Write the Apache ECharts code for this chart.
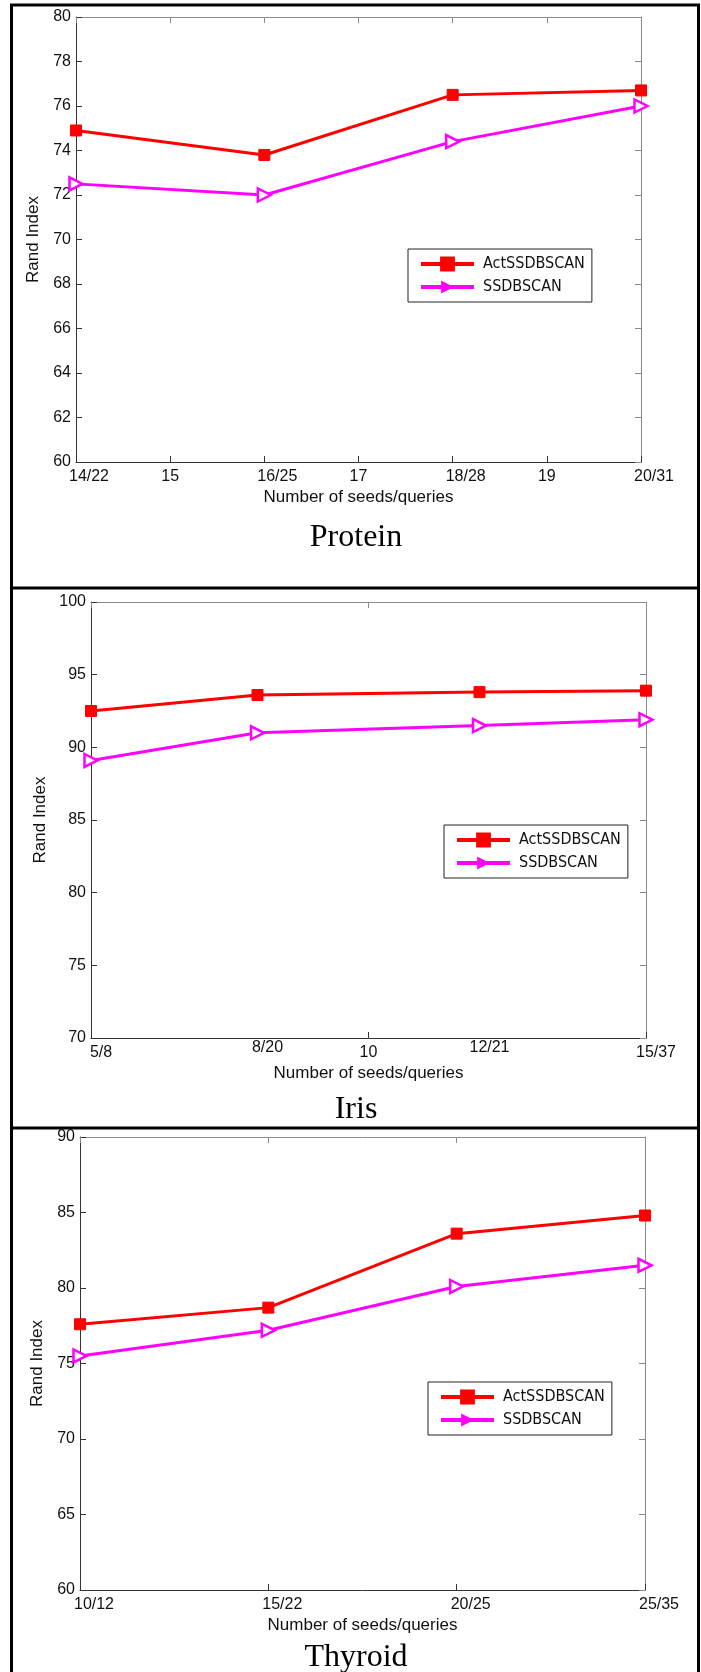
<!DOCTYPE html>
<html><head><meta charset="utf-8">
<script src="https://cdn.jsdelivr.net/npm/echarts@6/dist/echarts.min.js"></script>
<style>html,body{margin:0;padding:0;background:#fff}#c{width:701px;height:1672px}</style>
</head><body><div id="c"></div>
<script>
// ---- data ----
const seriesNames = ['ActSSDBSCAN', 'SSDBSCAN'];
const panelTitles = ['Protein', 'Iris', 'Thyroid'];
const xAxisTitle = 'Number of seeds/queries';
const yAxisTitle = 'Rand Index';

const proteinX = [14, 16, 18, 20];
const proteinAct = [74.9, 73.8, 76.5, 76.7];
const proteinSS = [72.5, 72.0, 74.4, 76.0];
const proteinTickValues = [14, 15, 16, 17, 18, 19, 20];
const proteinTickText = ['14/22', '15', '16/25', '17', '18/28', '19', '20/31'];

const irisX = [5, 8, 12, 15];
const irisAct = [92.5, 93.6, 93.8, 93.9];
const irisSS = [89.1, 91.0, 91.5, 91.9];
const irisTickValues = [5, 8, 10, 12, 15];
const irisTickText = ['5/8', '8/20', '10', '12/21', '15/37'];

const thyroidX = [10, 15, 20, 25];
const thyroidAct = [77.6, 78.7, 83.6, 84.8];
const thyroidSS = [75.5, 77.2, 80.1, 81.5];
const thyroidTickValues = [10, 15, 20, 25];
const thyroidTickText = ['10/12', '15/22', '20/25', '25/35'];

// ---- layout / styling ----
const panels = [
  { x: proteinX, act: proteinAct, ss: proteinSS, tv: proteinTickValues, tt: proteinTickText,
    xr: [14, 20, 1], yr: [60, 80, 2], marks: null, shift: 13,
    grid: { left: 76, top: 17, width: 565, height: 445 }, yGap: 30, legend: { left: 408, top: 249 }, titleY: 538 },
  { x: irisX, act: irisAct, ss: irisSS, tv: irisTickValues, tt: irisTickText,
    xr: [5, 15, 5], yr: [70, 100, 5], marks: [5, 10, 15], shift: 10,
    grid: { left: 91, top: 602, width: 555, height: 436 }, yGap: 38.5, legend: { left: 444, top: 825 }, titleY: 1110 },
  { x: thyroidX, act: thyroidAct, ss: thyroidSS, tv: thyroidTickValues, tt: thyroidTickText,
    xr: [10, 25, 5], yr: [60, 90, 5], marks: null, shift: 14,
    grid: { left: 80, top: 1137, width: 565, height: 453 }, yGap: 30.5, legend: { left: 428, top: 1382 }, titleY: 1658 }
];

const RED = '#ff0000', MAG = '#ff00ff';
const AX = '#333333', AX2 = '#8a8a8a';
const SANS = "'Liberation Sans', Arial, sans-serif";
const NARROW = "'DejaVu Sans Condensed', 'Liberation Sans Narrow', sans-serif";
const SERIF = "'Liberation Serif', 'Times New Roman', serif";

const grids = [], xAxes = [], yAxes = [], series = [], legends = [], graphics = [];

panels.forEach((p, i) => {
  grids.push(Object.assign({ containLabel: false }, p.grid));
  const base = { fontFamily: SANS, fontSize: 16, color: '#111' };
  const rich = {
    sd: Object.assign({ padding: [5, 0, 0, p.shift * 2] }, base),
    nd: Object.assign({ padding: [5, 0, 0, 0] }, base),
    sr: Object.assign({ padding: [0, 0, 0, p.shift * 2] }, base),
    nr: Object.assign({ padding: [0, 0, 0, 0] }, base)
  };
  const fmt = (val) => {
    const k = p.tv.indexOf(val);
    if (k < 0) return '';
    const t = p.tt[k];
    const s = t.indexOf('/') >= 0 ? 's' : 'n';
    const r = (p.marks && p.marks.indexOf(val) < 0) ? 'r' : 'd';
    return '{' + s + r + '|' + t + '}';
  };
  const tickCfg = { show: true, inside: true, length: 6, lineStyle: { color: AX, width: 1 } };
  if (p.marks) tickCfg.customValues = p.marks;
  xAxes.push({
    gridIndex: i, type: 'value', position: 'bottom', min: p.xr[0], max: p.xr[1], interval: p.xr[2],
    axisLine: { show: true, onZero: false, lineStyle: { color: AX, width: 1 } },
    axisTick: tickCfg,
    axisLabel: { show: true, customValues: p.tv, formatter: fmt, rich: rich, margin: 2, fontFamily: SANS, fontSize: 16, color: '#111' },
    splitLine: { show: false },
    name: xAxisTitle, nameLocation: 'middle', nameGap: 27,
    nameTextStyle: { fontFamily: SANS, fontSize: 17, color: '#111' }
  });
  const tickTop = { show: true, inside: true, length: 6, lineStyle: { color: AX2, width: 1 } };
  if (p.marks) tickTop.customValues = p.marks;
  xAxes.push({
    gridIndex: i, type: 'value', position: 'top', min: p.xr[0], max: p.xr[1], interval: p.xr[2],
    axisLine: { show: true, onZero: false, lineStyle: { color: AX2, width: 1 } },
    axisTick: tickTop, axisLabel: { show: false }, splitLine: { show: false }
  });
  yAxes.push({
    gridIndex: i, type: 'value', position: 'left', min: p.yr[0], max: p.yr[1], interval: p.yr[2],
    axisLine: { show: true, onZero: false, lineStyle: { color: AX, width: 1 } },
    axisTick: { show: true, inside: true, length: 6, lineStyle: { color: AX, width: 1 } },
    axisLabel: { show: true, margin: 5, fontFamily: SANS, fontSize: 16, color: '#111' },
    splitLine: { show: false },
    name: yAxisTitle, nameLocation: 'middle', nameGap: p.yGap,
    nameTextStyle: { fontFamily: SANS, fontSize: 17, color: '#111' }
  });
  yAxes.push({
    gridIndex: i, type: 'value', position: 'right', min: p.yr[0], max: p.yr[1], interval: p.yr[2],
    axisLine: { show: true, onZero: false, lineStyle: { color: AX2, width: 1 } },
    axisTick: { show: true, inside: true, length: 6, lineStyle: { color: AX2, width: 1 } },
    axisLabel: { show: false }, splitLine: { show: false }
  });
  series.push({
    name: seriesNames[0], type: 'line', xAxisIndex: 2 * i, yAxisIndex: 2 * i,
    data: p.x.map((v, k) => [v, p.act[k]]),
    symbol: 'rect', symbolSize: 11,
    lineStyle: { color: RED, width: 3 },
    itemStyle: { color: RED, borderColor: RED, borderWidth: 1 },
    z: 3
  });
  series.push({
    name: seriesNames[1], type: 'line', xAxisIndex: 2 * i, yAxisIndex: 2 * i,
    data: p.x.map((v, k) => [v, p.ss[k]]),
    symbol: 'triangle', symbolSize: 13, symbolRotate: -90,
    lineStyle: { color: MAG, width: 3 },
    itemStyle: { color: '#ffffff', borderColor: MAG, borderWidth: 2.5 },
    z: 3
  });
  legends.push({
    orient: 'vertical', left: p.legend.left, top: p.legend.top,
    itemWidth: 53, itemHeight: 16, itemGap: 7,
    padding: [7, 7, 7, 11],
    borderColor: '#222', borderWidth: 1, backgroundColor: '#fff',
    selectedMode: false,
    lineStyle: { width: 4 },
    textStyle: { fontFamily: NARROW, fontSize: 16, color: '#111', lineHeight: 16, padding: [0, 0, 0, 4] },
    data: [
      { name: seriesNames[0], itemStyle: { color: RED, borderColor: RED } },
      { name: seriesNames[1], itemStyle: { color: MAG, borderColor: MAG, borderWidth: 0 } }
    ]
  });
  graphics.push({
    type: 'text', x: 356, y: p.titleY, silent: true,
    style: { text: panelTitles[i], align: 'center', verticalAlign: 'middle', fontFamily: SERIF, fontSize: 32, fill: '#000' }
  });
});

// outer frame and panel dividers
const frame = [
  [11.5, 5, 11.5, 1672], [698.5, 5, 698.5, 1672], [10, 5, 700, 5], [10, 588, 700, 588], [10, 1128, 700, 1128]
];
frame.forEach(f => graphics.push({
  type: 'line', silent: true, z: 10,
  shape: { x1: f[0], y1: f[1], x2: f[2], y2: f[3] }, style: { stroke: '#000', lineWidth: 3 }
}));

const chart = echarts.init(document.getElementById('c'), null, { renderer: 'canvas' });
chart.setOption({
  backgroundColor: '#ffffff',
  animation: false,
  grid: grids, xAxis: xAxes, yAxis: yAxes, series: series, legend: legends,
  graphic: graphics
});
</script></body></html>
